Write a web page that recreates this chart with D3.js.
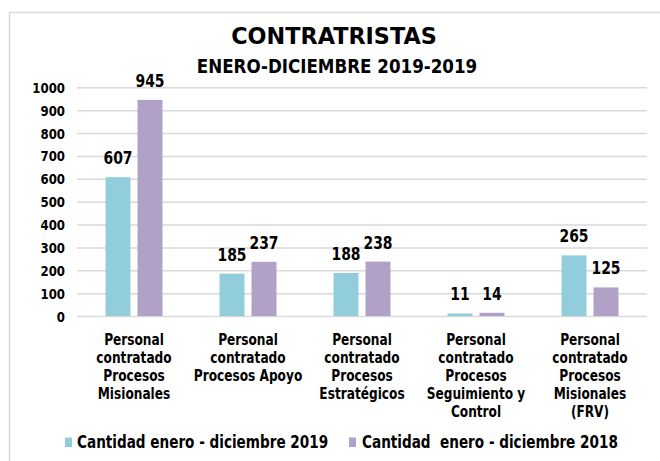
<!DOCTYPE html>
<html>
<head>
<meta charset="utf-8">
<script src="https://cdn.jsdelivr.net/npm/d3@7"></script>
<style>
  html, body { margin: 0; padding: 0; background: #ffffff; }
  svg { display: block; }
  text { font-family: "DejaVu Sans", Verdana, sans-serif; font-weight: bold; fill: #000; white-space: pre; }
</style>
</head>
<body>
<script>
// ---- Data ----
const categories = [
  "Personal contratado Procesos Misionales",
  "Personal contratado Procesos Apoyo",
  "Personal contratado Procesos Estratégicos",
  "Personal contratado Procesos Seguimiento y Control",
  "Personal contratado Procesos Misionales (FRV)"
];
const categoryLines = [
  ["Personal", "contratado", "Procesos", "Misionales"],
  ["Personal", "contratado", "Procesos Apoyo"],
  ["Personal", "contratado", "Procesos", "Estratégicos"],
  ["Personal", "contratado", "Procesos", "Seguimiento y", "Control"],
  ["Personal", "contratado", "Procesos", "Misionales", "(FRV)"]
];
const seriesNames = ["Cantidad enero - diciembre 2019", "Cantidad  enero - diciembre 2018"];
const values2019 = [607, 185, 188, 11, 265];
const values2018 = [945, 237, 238, 14, 125];
const yTicks = [0, 100, 200, 300, 400, 500, 600, 700, 800, 900, 1000];
const titleText = "CONTRATRISTAS";
const subtitleText = "ENERO-DICIEMBRE 2019-2019";

// ---- Layout ----
const W = 660, H = 461;
const colors = ["#92CDDC", "#B2A1C7"];
const plot = { left: 77, right: 647, top: 87.3, bottom: 316 };

const svg = d3.select("body").append("svg")
  .attr("width", W).attr("height", H);

// chart frame (only top/left visible)
svg.append("rect")
  .attr("x", 9.5).attr("y", 12.5)
  .attr("width", 800).attr("height", 600)
  .attr("fill", "none").attr("stroke", "#d9d9d9").attr("stroke-width", 1.5);

function sText(g, x, y, str, size, sx, anchor) {
  return g.append("text")
    .attr("transform", `translate(${x},${y}) scale(${sx},1)`)
    .attr("text-anchor", anchor || "middle")
    .attr("xml:space", "preserve")
    .style("white-space", "pre")
    .style("font-size", size + "px")
    .text(str);
}

// titles
sText(svg, 334, 44, titleText, 23.5, 0.95);
sText(svg, 337, 73, subtitleText, 19, 0.88);

// scales
const y = d3.scaleLinear().domain([0, 1000]).range([plot.bottom, plot.top]);
const x0 = d3.scaleBand().domain(categories).range([plot.left, plot.right]).paddingInner(0).paddingOuter(0);
const bw = x0.bandwidth();
const x1 = d3.scaleBand().domain([0, 1])
  .range([bw / 2 - 28.5, bw / 2 + 28.5]).paddingInner(0.21875).paddingOuter(0);

// gridlines via axis
const yAxis = svg.append("g")
  .attr("transform", `translate(${plot.left},0)`)
  .call(d3.axisLeft(y).tickValues(yTicks).tickSize(-(plot.right - plot.left)).tickFormat(d3.format("d")));
yAxis.select(".domain").remove();
yAxis.selectAll(".tick line").attr("stroke", "#d9d9d9").attr("stroke-width", 1.5);
yAxis.selectAll(".tick text")
  .attr("x", null).attr("dy", null)
  .attr("transform", "translate(-12,5) scale(0.87,1)")
  .attr("text-anchor", "end")
  .attr("fill", "#000")
  .style("font-family", "'DejaVu Sans', Verdana, sans-serif")
  .style("font-weight", "bold")
  .style("font-size", "13.5px");

// bars
const seriesVals = [values2019, values2018];
const barsG = svg.append("g");
categories.forEach((c, i) => {
  seriesVals.forEach((vals, s) => {
    const v = vals[i];
    const bx = x0(c) + x1(s);
    barsG.append("rect")
      .attr("x", bx).attr("y", y(v))
      .attr("width", x1.bandwidth()).attr("height", y(0) - y(v))
      .attr("fill", colors[s]);
    sText(barsG, bx + x1.bandwidth() / 2, y(v) - 13, String(v), 17, 0.82);
  });
});

// category labels
const catG = svg.append("g");
categories.forEach((c, i) => {
  const cx = x0(c) + bw / 2;
  categoryLines[i].forEach((line, j) => {
    sText(catG, cx, 344.5 + j * 18, line, 16, 0.76);
  });
});

// legend
const legendPos = [{ mx: 65, tx: 77 }, { mx: 349, tx: 362 }];
seriesNames.forEach((name, s) => {
  svg.append("rect")
    .attr("x", legendPos[s].mx).attr("y", 437.5)
    .attr("width", 7).attr("height", 9.5)
    .attr("fill", colors[s]);
  sText(svg, legendPos[s].tx, 447.5, name, 17, 0.80, "start");
});
</script>
</body>
</html>
